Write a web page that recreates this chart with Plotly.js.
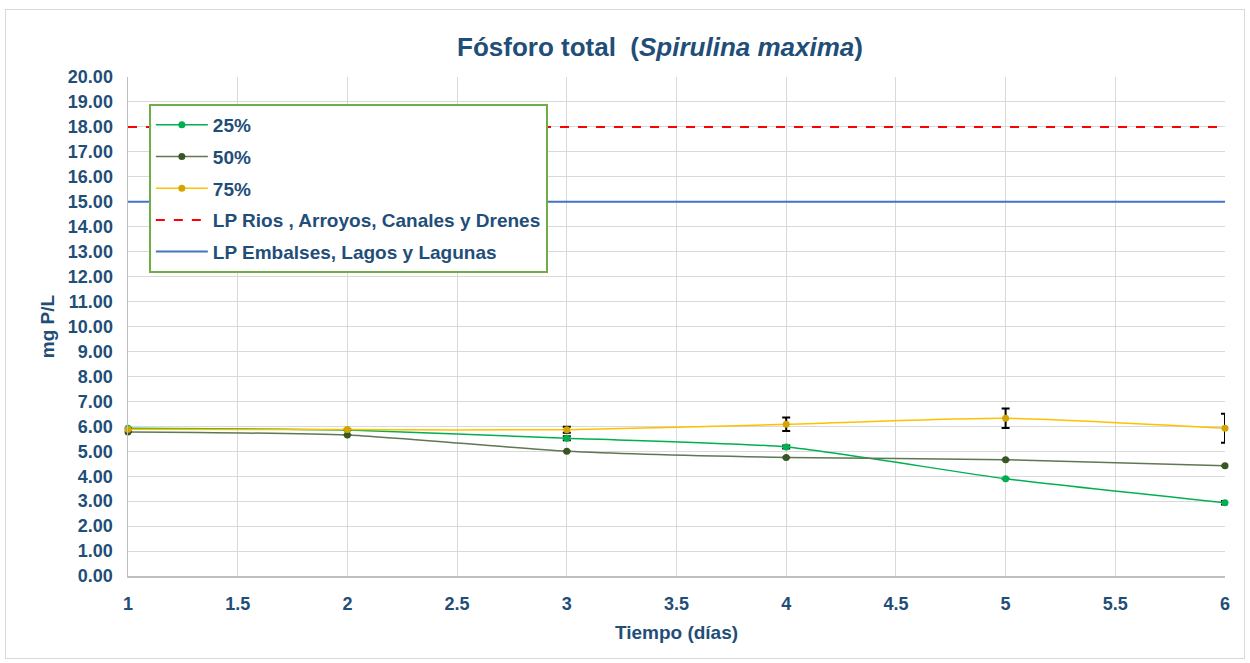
<!DOCTYPE html>
<html>
<head>
<meta charset="utf-8">
<script src="https://cdn.plot.ly/plotly-3.0.1.min.js"></script>
<style>
html,body{margin:0;padding:0;background:#fff;}
#frame{position:absolute;left:5px;top:9px;width:1240px;height:650px;border:1px solid #d9d9d9;box-sizing:border-box;}
#chart{position:absolute;left:0;top:0;width:1250px;height:663px;}
</style>
</head>
<body>
<div id="frame"></div>
<div id="chart"></div>
<script>
const days = [1, 2, 3, 4, 5, 6];
const p25 = [5.92, 5.85, 5.52, 5.17, 3.90, 2.94];
const p50 = [5.77, 5.65, 5.00, 4.75, 4.66, 4.42];
const p75 = [5.88, 5.87, 5.86, 6.08, 6.32, 5.92];
const err25 = [0, 0, 0.08, 0.06, 0, 0.07];
const err50 = [0, 0, 0, 0, 0, 0];
const err75 = [0, 0, 0.12, 0.27, 0.39, 0.58];
const limitX = [1, 6];
const limitRios = [18, 18];
const limitEmbalses = [15, 15];
const names = ['25%', '50%', '75%', 'LP Rios , Arroyos, Canales y Drenes', 'LP Embalses, Lagos y Lagunas'];

const txt = '#1F4E79';
const font = 'Liberation Sans, Arial, sans-serif';

function errObj(arr) {
  return {type: 'data', array: arr, visible: true, color: '#000000', thickness: 2, width: 4};
}

const traces = [
  {x: days, y: p25, name: names[0], mode: 'lines+markers', legendgroup: 'a', cliponaxis: false,
   line: {color: '#00B050', width: 1.5, shape: 'spline', smoothing: 0.6},
   marker: {color: '#00B050', size: 7}, error_y: errObj(err25)},
  {x: days, y: p50, name: names[1], mode: 'lines+markers', legendgroup: 'b', cliponaxis: false,
   line: {color: '#5E7852', width: 1.5, shape: 'spline', smoothing: 0.6},
   marker: {color: '#375623', size: 7}, error_y: errObj(err50)},
  {x: days, y: p75, name: names[2], mode: 'lines+markers', legendgroup: 'c', cliponaxis: false,
   line: {color: '#FFC000', width: 1.5, shape: 'spline', smoothing: 0.6},
   marker: {color: '#D4A500', size: 7}, error_y: errObj(err75)},
  {x: limitX, y: limitRios, name: names[3], mode: 'lines', legendgroup: 'd',
   line: {color: '#FF0000', width: 2, dash: 'dash'}},
  {x: limitX, y: limitEmbalses, name: names[4], mode: 'lines', legendgroup: 'e',
   line: {color: '#4472C4', width: 2}}
];

const layout = {
  width: 1250, height: 663,
  paper_bgcolor: 'rgba(0,0,0,0)', plot_bgcolor: '#ffffff',
  margin: {l: 128, r: 25, t: 77, b: 87},
  font: {family: font, color: txt},
  title: {text: '<b>Fósforo total  (<i>Spirulina maxima</i>)</b>', font: {family: font, size: 26, color: txt},
          x: 0.485, xref: 'paper', xanchor: 'center', y: 0.93, yanchor: 'middle'},
  showlegend: true,
  legend: {x: 0.019, y: 0.946, xanchor: 'left', yanchor: 'top', bgcolor: '#ffffff',
           bordercolor: '#70AD47', borderwidth: 2, traceorder: 'grouped', tracegroupgap: 4,
           itemwidth: 52,
           font: {family: font, size: 19, color: txt, weight: 'bold'}},
  xaxis: {range: [1, 6], dtick: 0.5, tick0: 1, showgrid: true, gridcolor: '#d9d9d9', gridwidth: 1,
          showline: true, linecolor: '#bfbfbf', linewidth: 1.5, zeroline: false, ticks: '',
          ticklabelstandoff: 11,
          tickfont: {family: font, size: 18, color: txt, weight: 'bold'},
          title: {text: '<b>Tiempo (días)</b>', font: {family: font, size: 19, color: txt}, standoff: 12}},
  yaxis: {range: [0, 20], dtick: 1, tickformat: '.2f', showgrid: true, gridcolor: '#d9d9d9', gridwidth: 1,
          showline: true, linecolor: '#bfbfbf', linewidth: 1.5, zeroline: false, ticks: '',
          ticklabelstandoff: 10,
          tickfont: {family: font, size: 18, color: txt, weight: 'bold'},
          title: {text: '<b>mg P/L</b>', font: {family: font, size: 19, color: txt}, standoff: 8}}
};

Plotly.newPlot('chart', traces, layout, {displayModeBar: false, staticPlot: true});
</script>
</body>
</html>
